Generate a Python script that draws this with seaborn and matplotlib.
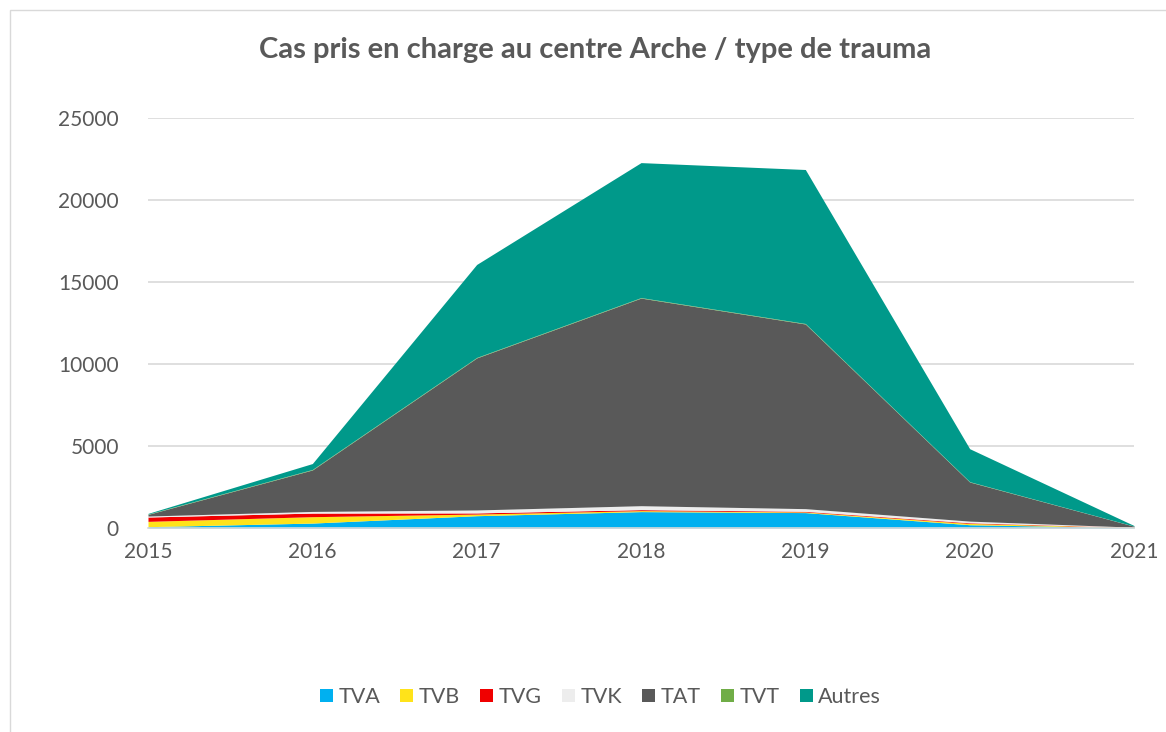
import numpy as np
import pandas as pd
import matplotlib
matplotlib.use("Agg")
import matplotlib.pyplot as plt
import seaborn as sns
from matplotlib.patches import Patch, Rectangle

years = [2015, 2016, 2017, 2018, 2019, 2020, 2021]
series = ["TVA", "TVB", "TVG", "TVK", "TAT", "TVT", "Autres"]
tva = [80, 300, 750, 1000, 940, 200, 20]
tvb = [325, 390, 100, 60, 40, 80, 10]
tvg = [265, 220, 70, 60, 40, 40, 10]
tvk = [60, 100, 180, 240, 160, 100, 10]
tat = [100, 2530, 9270, 12660, 11260, 2385, 60]
tvt = [20, 30, 30, 30, 30, 20, 5]
autres = [40, 360, 5670, 8230, 9390, 2010, 35]
colors = ["#00B0F0", "#FFE31A", "#F00000", "#EDEDED", "#595959", "#70AD47", "#00998A"]

df = pd.DataFrame({"TVA": tva, "TVB": tvb, "TVG": tvg, "TVK": tvk,
                   "TAT": tat, "TVT": tvt, "Autres": autres}, index=years)

sns.set_theme(style="white")
plt.rcParams['font.family'] = ['Lato', 'DejaVu Sans']

fig = plt.figure(figsize=(11.66, 7.32), dpi=100)
ax = fig.add_axes([148 / 1166, 1 - 528 / 732, (1134 - 148) / 1166, (528 - 118) / 732])

ax.stackplot(df.index, [df[s] for s in series], colors=colors, linewidth=0)

ax.set_xlim(2015, 2021)
ax.set_ylim(0, 25000)
ax.set_yticks(np.arange(0, 25001, 5000))
ax.set_xticks(years)
ax.yaxis.grid(True, color="#D9D9D9", linewidth=1.2)
ax.set_axisbelow(True)
for side in ["left", "right", "top"]:
    ax.spines[side].set_visible(False)
ax.spines["bottom"].set_color("#D9D9D9")
ax.spines["bottom"].set_linewidth(1.2)
ax.tick_params(axis="y", length=0, pad=21, labelsize=15, labelcolor="#595959")
ax.tick_params(axis="x", length=0, pad=10, labelsize=15, labelcolor="#595959")

fig.text(0.51, 1 - 50 / 732, "Cas pris en charge au centre Arche / type de trauma",
         ha="center", va="center", fontsize=21, fontweight="bold", color="#595959")

handles = [Patch(facecolor=c, edgecolor="none") for c in colors]
fig.legend(handles, series, loc="center", bbox_to_anchor=(0.515, 1 - 697 / 732),
           ncol=7, frameon=False, fontsize=15.5, handlelength=0.6, handleheight=0.6,
           handletextpad=0.25, columnspacing=0.95, labelcolor="#595959")

fig.patches.append(Rectangle((10 / 1166, -0.01), 1.1, 1 - 10 / 732 + 0.01,
                             transform=fig.transFigure, fill=False,
                             edgecolor="#D9D9D9", linewidth=1))

fig.savefig("out.png", dpi=100)
